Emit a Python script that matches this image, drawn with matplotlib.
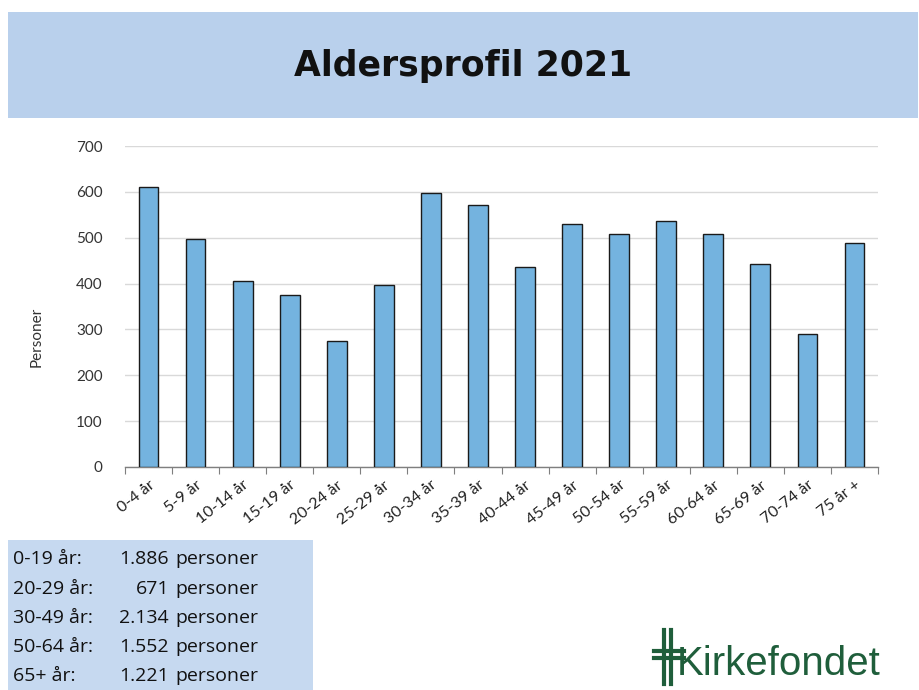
import matplotlib
matplotlib.use("Agg")
import matplotlib.pyplot as plt
from matplotlib.patches import Rectangle
from matplotlib.lines import Line2D

categories = ["0-4 år", "5-9 år", "10-14 år", "15-19 år", "20-24 år", "25-29 år",
              "30-34 år", "35-39 år", "40-44 år", "45-49 år", "50-54 år", "55-59 år",
              "60-64 år", "65-69 år", "70-74 år", "75 år +"]
values = [610, 497, 405, 374, 275, 396, 598, 571, 436, 529, 508, 536, 508, 442, 291, 488]
yticks = [0, 100, 200, 300, 400, 500, 600, 700]

summary_labels = ["0-19 år:", "20-29 år:", "30-49 år:", "50-64 år:", "65+ år:"]
summary_numbers = ["1.886", "671", "2.134", "1.552", "1.221"]

W, H = 920, 690
fig = plt.figure(figsize=(9.2, 6.9), dpi=100)
fig.patch.set_facecolor("white")

def fx(px):
    return px / W

def fy(py):
    return 1 - py / H

# Title banner
fig.patches.append(Rectangle((fx(8), fy(118)), fx(918) - fx(8), fy(12) - fy(118),
                             transform=fig.transFigure, facecolor="#b9d0ec",
                             edgecolor="none", zorder=0))
fig.text(fx(463), fy(66), "Aldersprofil 2021", ha="center", va="center",
         fontsize=25, fontweight="heavy", family="DejaVu Sans", color="#111111")

# Chart
ax = fig.add_axes([fx(125), fy(467), fx(878) - fx(125), fy(146) - fy(467)])
x = list(range(len(categories)))
ax.bar(x, values, width=0.42, color="#74b3df", edgecolor="#1a1a1a", linewidth=1.0, zorder=3)
ax.set_xlim(-0.5, len(categories) - 0.5)
ax.set_ylim(0, 700)
ax.set_yticks(yticks)
ax.set_yticklabels([str(v) for v in yticks], family="Lato", fontsize=11, color="#333333")
ax.tick_params(axis="y", length=0, pad=16)
ax.yaxis.grid(True, color="#d9d9d9", linewidth=1.0, zorder=0)
ax.set_axisbelow(True)
for s in ["left", "right", "top"]:
    ax.spines[s].set_visible(False)
ax.spines["bottom"].set_color("#7f7f7f")
ax.spines["bottom"].set_linewidth(1.0)

# major ticks at boundaries (no labels), minor at centers (labels)
ax.set_xticks([i - 0.5 for i in range(len(categories) + 1)])
ax.set_xticklabels([])
ax.tick_params(axis="x", which="major", length=5, color="#7f7f7f", direction="out")
ax.set_xticks(x, minor=True)
ax.set_xticklabels(categories, minor=True, rotation=38, ha="right",
                   rotation_mode="anchor", family="Lato", fontsize=11.5, color="#222222")
ax.tick_params(axis="x", which="minor", length=0, pad=8)

fig.text(fx(37), fy(337), "Personer", rotation=90, ha="center", va="center",
         family="Lato", fontsize=11, color="#333333")

# Summary box
fig.patches.append(Rectangle((fx(8), fy(690)), fx(313) - fx(8), fy(540) - fy(690),
                             transform=fig.transFigure, facecolor="#c6d9f0",
                             edgecolor="none", zorder=0))
line_y = [559, 589, 618, 647, 676]
for lab, num, py in zip(summary_labels, summary_numbers, line_y):
    fig.text(fx(13), fy(py), lab, ha="left", va="center", family="Open Sans",
             fontsize=14, color="#111111")
    fig.text(fx(169), fy(py), num, ha="right", va="center", family="Open Sans",
             fontsize=14, color="#111111")
    fig.text(fx(175), fy(py), "personer", ha="left", va="center", family="Open Sans",
             fontsize=14, color="#111111")

# Logo
green = "#1f5e3b"
fig.text(fx(677), fy(664), "Kirkefondet", ha="left", va="center",
         family="Liberation Sans", fontsize=29, color=green)
for (x0, y0, x1, y1) in [(664, 630, 664, 684), (671, 630, 671, 684),
                         (654, 651, 684, 651), (654, 658, 684, 658)]:
    fig.lines.append(Line2D([fx(x0), fx(x1)], [fy(y0), fy(y1)],
                            transform=fig.transFigure, color=green, linewidth=3))

fig.savefig("out.png", dpi=100)
